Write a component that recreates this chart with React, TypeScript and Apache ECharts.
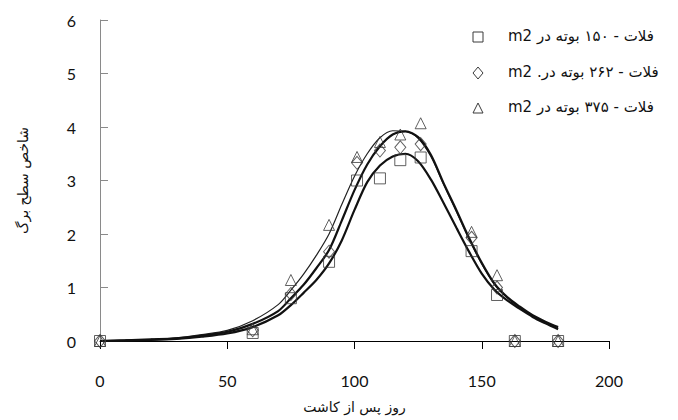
import { useEffect, useRef } from "react";
import * as echarts from "echarts";

// measured points (days after planting)
const days = [0, 60, 75, 90, 101, 110, 118, 126, 146, 156, 163, 180];
const lai150 = [0, 0.15, 0.8, 1.48, 3.0, 3.04, 3.38, 3.43, 1.68, 0.86, 0, 0];
const lai262 = [0, 0.2, 0.88, 1.67, 3.33, 3.56, 3.62, 3.68, 1.93, 1.0, 0, 0];
const lai375 = [0, 0.22, 1.14, 2.17, 3.44, 3.72, 3.86, 4.07, 2.04, 1.23, 0, 0];

// fitted curves
const fitDays = [
  0, 10, 20, 30, 40, 50, 60, 70, 75, 80, 85, 90, 95, 100, 105, 110, 115, 120,
  125, 130, 135, 140, 145, 150, 155, 160, 165, 170, 175, 180
];
const fit150 = [
  0, 0.01, 0.02, 0.04, 0.08, 0.14, 0.26, 0.48, 0.67, 0.9, 1.14, 1.45, 1.88, 2.45,
  2.97, 3.28, 3.45, 3.5, 3.36, 3.02, 2.58, 2.12, 1.67, 1.26, 0.96, 0.76, 0.6, 0.45,
  0.33, 0.22
];
const fit262 = [
  0, 0.01, 0.03, 0.05, 0.1, 0.17, 0.32, 0.56, 0.8, 1.05, 1.36, 1.7, 2.25, 2.82,
  3.3, 3.64, 3.86, 3.92, 3.81, 3.48, 2.95, 2.45, 1.93, 1.46, 1.07, 0.82, 0.64,
  0.48, 0.36, 0.26
];
const fit375 = [
  0, 0.01, 0.03, 0.06, 0.12, 0.2, 0.38, 0.68, 0.95, 1.25, 1.6, 2.0, 2.55, 3.08,
  3.5, 3.8, 3.93, 3.92, 3.79, 3.45, 2.93, 2.42, 1.9, 1.44, 1.06, 0.81, 0.63, 0.47,
  0.35, 0.25
];

const legendNames = [
  "\u202Bفلات - ۱۵۰ بوته در m2\u202C",
  "\u202Bفلات - ۲۶۲ بوته در. m2\u202C",
  "\u202Bفلات - ۳۷۵ بوته در m2\u202C"
];

const xTitle = "روز پس از کاشت";
const yTitle = "شاخص سطح برگ";

const FA_FONT = "'DejaVu Sans', sans-serif";
const NUM_FONT = "Lato, 'Open Sans', sans-serif";
const MARK = "#3a3a3a";

function pairs(xs: number[], ys: number[]): number[][] {
  return xs.map((x, i) => [x, ys[i]]);
}

export default function App() {
  const chartRef = useRef<HTMLDivElement | null>(null);

  useEffect(() => {
    if (!chartRef.current) {
      return;
    }
    const chart = echarts.init(chartRef.current, null, { renderer: "svg" });

    const markerStyle = { color: "rgba(0,0,0,0)", borderColor: MARK, borderWidth: 1 };
    const legendText = (y: number, text: string) => ({
      type: "text",
      left: 508,
      top: y - 9,
      style: { text, font: `15px ${FA_FONT}`, fill: "#111" }
    });

    chart.setOption({
      animation: false,
      backgroundColor: "#fff",
      grid: { left: 100, right: 69, top: 20, bottom: 79 },
      xAxis: {
        type: "value",
        min: 0,
        max: 200,
        interval: 50,
        name: xTitle,
        nameLocation: "middle",
        nameGap: 59,
        nameTextStyle: { fontFamily: FA_FONT, fontSize: 14, color: "#111" },
        axisLine: { show: true, lineStyle: { color: "#000", width: 1 } },
        axisTick: { show: true, inside: false, length: 8, lineStyle: { color: "#000" } },
        axisLabel: { margin: 31, fontFamily: NUM_FONT, fontSize: 16, color: "#111" },
        splitLine: { show: false }
      },
      yAxis: {
        type: "value",
        min: 0,
        max: 6,
        interval: 1,
        name: yTitle,
        nameLocation: "middle",
        nameRotate: 90,
        nameGap: 70,
        nameTextStyle: { fontFamily: FA_FONT, fontSize: 14, color: "#111" },
        axisLine: { show: true, lineStyle: { color: "#8a8a8a", width: 1 } },
        axisTick: { show: true, inside: true, length: 8, lineStyle: { color: "#8a8a8a" } },
        axisLabel: { margin: 24, fontFamily: NUM_FONT, fontSize: 16, color: "#111" },
        splitLine: { show: false }
      },
      graphic: [
        {
          type: "rect",
          shape: { x: 473, y: 32, width: 10, height: 10 },
          style: { fill: "none", stroke: MARK, lineWidth: 1 }
        },
        {
          type: "polygon",
          shape: { points: [[478, 67], [483, 73], [478, 79], [473, 73]] },
          style: { fill: "none", stroke: MARK, lineWidth: 1 }
        },
        {
          type: "polygon",
          shape: { points: [[478, 103], [483, 113], [473, 113]] },
          style: { fill: "none", stroke: MARK, lineWidth: 1 }
        },
        legendText(37, legendNames[0]),
        legendText(73, legendNames[1]),
        legendText(108, legendNames[2])
      ],
      series: [
        {
          name: "fit375",
          type: "line",
          smooth: 0.3,
          showSymbol: false,
          data: pairs(fitDays, fit375),
          lineStyle: { color: "#222", width: 1.2 },
          z: 2
        },
        {
          name: "fit262",
          type: "line",
          smooth: 0.3,
          showSymbol: false,
          data: pairs(fitDays, fit262),
          lineStyle: { color: "#111", width: 2.2 },
          z: 2
        },
        {
          name: "fit150",
          type: "line",
          smooth: 0.3,
          showSymbol: false,
          data: pairs(fitDays, fit150),
          lineStyle: { color: "#111", width: 2.2 },
          z: 2
        },
        {
          name: legendNames[0],
          type: "scatter",
          symbol: "rect",
          symbolSize: 11,
          data: pairs(days, lai150),
          itemStyle: markerStyle,
          z: 3
        },
        {
          name: legendNames[1],
          type: "scatter",
          symbol: "diamond",
          symbolSize: [11, 13],
          data: pairs(days, lai262),
          itemStyle: markerStyle,
          z: 3
        },
        {
          name: legendNames[2],
          type: "scatter",
          symbol: "triangle",
          symbolSize: [11, 11],
          data: pairs(days, lai375),
          itemStyle: markerStyle,
          z: 3
        }
      ]
    });

    return () => {
      chart.dispose();
    };
  }, []);

  return (
    <div
      ref={chartRef}
      style={{ position: "fixed", left: 0, top: 0, width: 678, height: 420, background: "#fff" }}
    />
  );
}
